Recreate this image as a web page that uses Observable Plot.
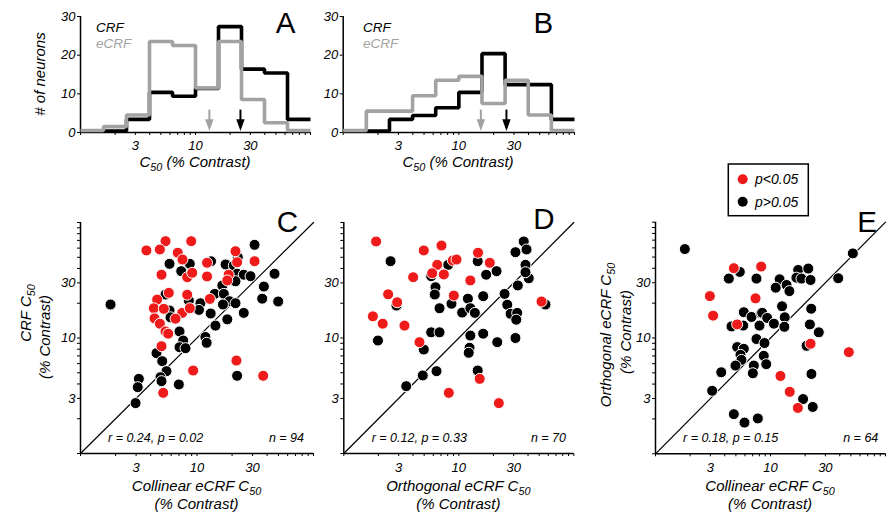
<!DOCTYPE html>
<html><head><meta charset="utf-8">
<script src="https://cdn.jsdelivr.net/npm/d3@7"></script>
<script src="https://cdn.jsdelivr.net/npm/@observablehq/plot@0.6"></script>
<style>
body{margin:0;background:#fff;}
#root{position:relative;width:893px;height:513px;overflow:hidden;background:#fff;}
#root svg{position:absolute;left:0;top:0;}
</style></head><body><div id="root"></div>
<script>
// ---------- data ----------
const binEdges = [1, 1.585, 2.512, 3.981, 6.31, 10, 15.85, 25.12, 39.81, 63.1, 100];
const histA_CRF  = [0, 0, 3, 10, 9, 11, 27, 16, 15, 3];
const histA_eCRF = [0, 1, 4, 23, 22, 11, 23, 8, 2, 0];
const histB_CRF  = [0, 0, 3, 4, 6, 10, 20, 12, 12, 3];
const histB_eCRF = [0, 5, 5, 9, 13, 14, 7, 13, 4, 0];
const medianA = {CRF: 24.6, eCRF: 13.2};
const medianB = {CRF: 25.8, eCRF: 15.5};

const histYTicks = [0, 10, 20, 30];
const logTicks = [3, 10, 30];
const minorTicks = [1,2,3,4,5,6,7,8,9,10,20,30,40,50,60,70,80,90,100];
const identityLine = [1, 100];

// [x, y] pairs: red = p<0.05, black = p>0.05
const C_sig = [[5.37,68.9],[8.92,68.9],[3.68,57.3],[4.80,58.4],[6.84,54.7],[7.51,47.8],[4.96,35.3],[8.24,33.6],[9.10,36.7],[12.2,44.8],[12.2,34.1],[5.73,24.6],[8.24,23.7],[4.55,21.5],[4.26,18.1],[5.19,17.9],[7.46,16.5],[8.67,18.1],[6.54,14.7],[4.32,14.8],[4.80,13.3],[5.37,11.4],[5.66,10.9],[4.96,8.49],[9.27,5.23],[5.13,3.35],[12.9,21.8],[21.4,56.4],[31.2,46.2],[22.1,45.3],[18.7,35.3],[18.2,31.5],[21.8,6.38],[37.0,4.71]];
const C_ns = [[1.81,19.5],[5.81,43.9],[8.67,43.9],[7.32,37.9],[5.37,23.8],[8.51,21.1],[10.7,20.0],[10.4,17.5],[5.81,17.3],[5.92,15.1],[7.08,11.4],[7.61,9.51],[7.08,8.32],[7.97,8.16],[11.8,10.2],[12.1,9.09],[4.49,7.39],[5.03,6.30],[5.47,5.16],[4.86,4.58],[4.96,4.23],[6.98,3.96],[3.17,4.43],[3.10,3.75],[2.97,2.73],[13.1,16.3],[31.2,64.1],[22.4,50.1],[17.6,43.3],[20.7,42.4],[22.1,36.0],[25.2,35.3],[28.8,34.3],[21.4,31.0],[46.3,36.0],[37.5,27.9],[36.3,21.9],[49.8,20.7],[16.5,28.5],[14.2,24.1],[17.0,24.1],[19.0,20.8],[16.7,19.5],[21.4,20.0],[25.2,16.5],[18.2,14.5],[14.4,12.8],[22.1,4.71],[13.2,46.2]];
const D_sig = [[1.91,68.5],[4.96,57.3],[7.07,63.2],[6.49,43.0],[4.01,33.6],[5.87,36.4],[7.41,35.5],[8.87,46.9],[9.55,47.8],[2.43,23.9],[2.91,20.4],[1.79,15.4],[2.18,13.3],[3.37,12.8],[9.05,23.3],[4.55,9.20],[8.19,3.35],[14.7,54.7],[18.6,44.8],[12.6,31.5],[52.4,20.7],[15.2,4.43],[22.3,2.73]];
const D_ns = [[2.55,46.2],[8.09,43.0],[5.75,34.3],[6.27,27.5],[6.18,23.8],[6.80,18.1],[8.64,19.8],[2.87,19.1],[1.98,9.51],[5.75,11.2],[6.80,11.2],[4.96,7.95],[4.86,4.74],[6.40,5.16],[3.49,3.83],[10.7,16.6],[36.7,68.5],[31.1,55.3],[38.8,58.4],[14.6,46.2],[38.0,43.0],[40.6,32.9],[38.0,37.1],[21.3,37.9],[17.3,35.3],[32.6,28.5],[12.0,21.9],[16.3,23.0],[25.0,24.1],[26.4,19.4],[12.6,18.1],[13.8,16.5],[28.2,16.2],[32.2,16.5],[31.6,14.4],[56.7,19.5],[12.6,10.5],[16.3,10.9],[21.6,9.20],[31.1,10.0],[12.4,8.23],[12.2,7.45],[14.6,5.23]];
const E_sig = [[4.80,40.1],[8.30,41.4],[2.97,23.0],[3.17,15.6],[7.41,22.0],[5.13,13.1],[22.3,8.92],[48.0,7.55],[12.2,4.70],[14.7,3.43],[17.3,2.49]];
const E_ns = [[1.80,58.6],[5.41,37.2],[4.34,32.6],[7.55,32.6],[5.86,16.7],[6.84,15.2],[8.30,16.3],[4.58,12.6],[5.79,12.8],[8.02,12.8],[7.55,9.80],[5.13,8.35],[5.86,8.07],[5.48,7.16],[5.59,6.47],[4.96,5.78],[7.16,5.78],[7.02,4.96],[3.73,5.06],[3.11,3.50],[4.80,2.20],[5.94,1.86],[7.76,2.02],[52.0,53.8],[17.4,38.7],[21.3,39.8],[16.8,33.2],[18.6,32.6],[22.3,31.7],[38.8,32.8],[12.0,32.1],[11.1,27.2],[13.8,28.7],[14.6,25.4],[12.6,18.8],[22.6,17.9],[8.47,16.5],[9.36,14.9],[13.3,15.1],[10.7,13.3],[22.0,13.1],[13.2,12.5],[26.3,11.2],[8.87,9.05],[20.6,8.57],[8.74,7.02],[9.18,5.94],[22.7,4.89],[19.2,2.97],[23.3,2.54]];

// ---------- layout ----------
const W = 893, H = 513;
const FONT = "'Liberation Sans', Arial, Helvetica, sans-serif";
const RED = "#ef1a1a", GRAY = "#a2a2a2";
const root = document.getElementById("root");
const baseStyle = {fontFamily: FONT, fontSize: "13px", fontStyle: "italic", background: "transparent", overflow: "visible"};

const arrowHead = {draw(ctx, size) {
  const s = Math.sqrt(size);
  ctx.moveTo(-s * 0.36, -s * 0.5); ctx.lineTo(s * 0.36, -s * 0.5); ctx.lineTo(0, s * 0.5); ctx.closePath();
}};

function steps(counts) {
  const pts = counts.map((c, i) => ({x: binEdges[i], y: c}));
  pts.push({x: binEdges[binEdges.length - 1], y: counts[counts.length - 1]});
  return pts;
}

const xTickLines = () => Plot.axisX(minorTicks, {anchor: "bottom", tickSize: 3, tickFormat: () => "", label: null});
const yTickLines = (t) => Plot.axisY(t, {anchor: "left", tickSize: 3, tickFormat: () => "", label: null});
const xTickText = (dy) => Plot.text(logTicks, {x: d => d, text: d => `${d}`, frameAnchor: "bottom", dy, lineAnchor: "middle"});
const yTickText = (t) => Plot.text(t, {y: d => d, text: d => `${d}`, frameAnchor: "left", dx: -5, textAnchor: "end", lineAnchor: "middle"});

function histPlot(left, right, crf, ecrf, med) {
  return Plot.plot({
    width: W, height: H,
    marginLeft: left, marginRight: W - right, marginTop: 16, marginBottom: H - 132,
    x: {type: "log", domain: [1, 100], axis: null},
    y: {domain: [0, 30], axis: null},
    style: baseStyle,
    marks: [
      xTickLines(),
      yTickLines(histYTicks),
      xTickText(13),
      yTickText(histYTicks),
      Plot.ruleY([0], {strokeWidth: 1.5}),
      Plot.ruleX([1], {strokeWidth: 1.5}),
      Plot.line(steps(crf), {x: "x", y: "y", curve: "step-after", stroke: "black", strokeWidth: 3.6, strokeLinejoin: "miter", strokeLinecap: "butt", dy: -1.5}),
      Plot.line(steps(ecrf), {x: "x", y: "y", curve: "step-after", stroke: GRAY, strokeWidth: 3.6, strokeLinejoin: "miter", strokeLinecap: "butt", dy: -2}),
      Plot.ruleX([med.eCRF], {x: d => d, y1: 2.4, y2: 5.8, stroke: GRAY, strokeWidth: 2}),
      Plot.dot([med.eCRF], {x: d => d, y: 1.9, symbol: arrowHead, r: 6.6, fill: GRAY, stroke: "none"}),
      Plot.ruleX([med.CRF], {x: d => d, y1: 2.4, y2: 5.8, stroke: "black", strokeWidth: 2}),
      Plot.dot([med.CRF], {x: d => d, y: 1.9, symbol: arrowHead, r: 6.6, fill: "black", stroke: "none"})
    ]
  });
}

function scatterPlot(left, right, top, bottom, ns, sig) {
  return Plot.plot({
    width: W, height: H,
    marginLeft: left, marginRight: W - right, marginTop: top, marginBottom: H - bottom,
    x: {type: "log", domain: [1, 100], axis: null},
    y: {type: "log", domain: [1, 100], axis: null},
    style: baseStyle,
    marks: [
      xTickLines(),
      yTickLines(minorTicks),
      xTickText(14),
      yTickText(logTicks),
      Plot.ruleY([1], {strokeWidth: 1.5}),
      Plot.ruleX([1], {strokeWidth: 1.5}),
      Plot.line(identityLine, {x: d => d, y: d => d, stroke: "black", strokeWidth: 1.2}),
      Plot.dot(ns, {x: d => d[0], y: d => d[1], r: 5.5, fill: "black", stroke: "white", strokeWidth: 1}),
      Plot.dot(sig, {x: d => d[0], y: d => d[1], r: 5.5, fill: RED, stroke: "white", strokeWidth: 1})
    ]
  });
}

root.append(histPlot(80, 310, histA_CRF, histA_eCRF, medianA));
root.append(histPlot(342.7, 574, histB_CRF, histB_eCRF, medianB));
root.append(scatterPlot(80, 313, 222, 453, C_ns, C_sig));
root.append(scatterPlot(343.3, 573.3, 222, 453, D_ns, D_sig));
root.append(scatterPlot(655, 885, 221.7, 453.3, E_ns, E_sig));

// ---------- text overlay ----------
const svg = d3.create("svg").attr("width", W).attr("height", H).style("font-family", FONT).style("overflow", "visible");
function label(x, y, parts, {anchor = "middle", size = 15, rotate = 0, fill = "black", italic = true} = {}) {
  const t = svg.append("text")
    .attr("transform", `translate(${x},${y}) rotate(${rotate})`)
    .attr("text-anchor", anchor).attr("font-size", size)
    .attr("font-style", italic ? "italic" : "normal").attr("fill", fill);
  let shift = 0;
  for (const [s, sub] of parts) {
    const ts = t.append("tspan").text(s);
    if (sub) { ts.attr("dy", 4).attr("font-size", size * 0.72); shift = 4; }
    else if (shift) { ts.attr("dy", -shift); shift = 0; }
  }
}
const C50 = [["C"], ["50", true]];
const C50pc = [["C"], ["50", true], [" (% Contrast)"]];

// histogram texts
label(96, 32, [["CRF"]], {anchor: "start", size: 13.5});
label(96, 48, [["eCRF"]], {anchor: "start", size: 13.5, fill: GRAY});
label(363, 32, [["CRF"]], {anchor: "start", size: 13.5});
label(363, 48, [["eCRF"]], {anchor: "start", size: 13.5, fill: GRAY});
label(45, 74, [["# of neurons"]], {rotate: -90});
label(195, 167, C50pc);
label(458, 167, C50pc);
// panel letters
label(285.5, 33.3, [["A"]], {size: 29.5, italic: false});
label(543.3, 33.3, [["B"]], {size: 29.5, italic: false});
label(287.5, 231.5, [["C"]], {size: 29.5, italic: false});
label(544, 228.5, [["D"]], {size: 29.5, italic: false});
label(867, 231.5, [["E"]], {size: 29.5, italic: false});
// scatter axis labels
label(30.5, 313, [["CRF "], ...C50], {rotate: -90});
label(50, 337, [["(% Contrast)"]], {rotate: -90});
label(196.5, 490.5, [["Collinear eCRF  "], ...C50]);
label(196.5, 508.5, [["(% Contrast)"]]);
label(458.3, 490.5, [["Orthogonal eCRF "], ...C50]);
label(458.3, 508.5, [["(% Contrast)"]]);
label(770, 490.5, [["Collinear eCRF  "], ...C50]);
label(770, 508.5, [["(% Contrast)"]]);
label(610.5, 335, [["Orthogonal eCRF "], ...C50], {rotate: -90});
label(630.5, 332, [["(% Contrast)"]], {rotate: -90});
// stats
label(108, 441.5, [["r = 0.24, p = 0.02"]], {anchor: "start", size: 12.5});
label(304, 441.5, [["n = 94"]], {anchor: "end", size: 12.5});
label(371.7, 441.5, [["r = 0.12, p = 0.33"]], {anchor: "start", size: 12.5});
label(566, 441.5, [["n = 70"]], {anchor: "end", size: 12.5});
label(683, 441.5, [["r = 0.18, p = 0.15"]], {anchor: "start", size: 12.5});
label(878.3, 441.5, [["n = 64"]], {anchor: "end", size: 12.5});
// legend
svg.append("rect").attr("x", 728.3).attr("y", 164).attr("width", 80).attr("height", 51.7)
  .attr("fill", "white").attr("stroke", "black").attr("stroke-width", 1.5);
svg.append("circle").attr("cx", 742.7).attr("cy", 179.3).attr("r", 5).attr("fill", RED);
svg.append("circle").attr("cx", 742.7).attr("cy", 201.7).attr("r", 5).attr("fill", "black");
label(755, 184.3, [["p<0.05"]], {anchor: "start", size: 14});
label(755, 206.7, [["p>0.05"]], {anchor: "start", size: 14});
root.append(svg.node());
</script></body></html>
